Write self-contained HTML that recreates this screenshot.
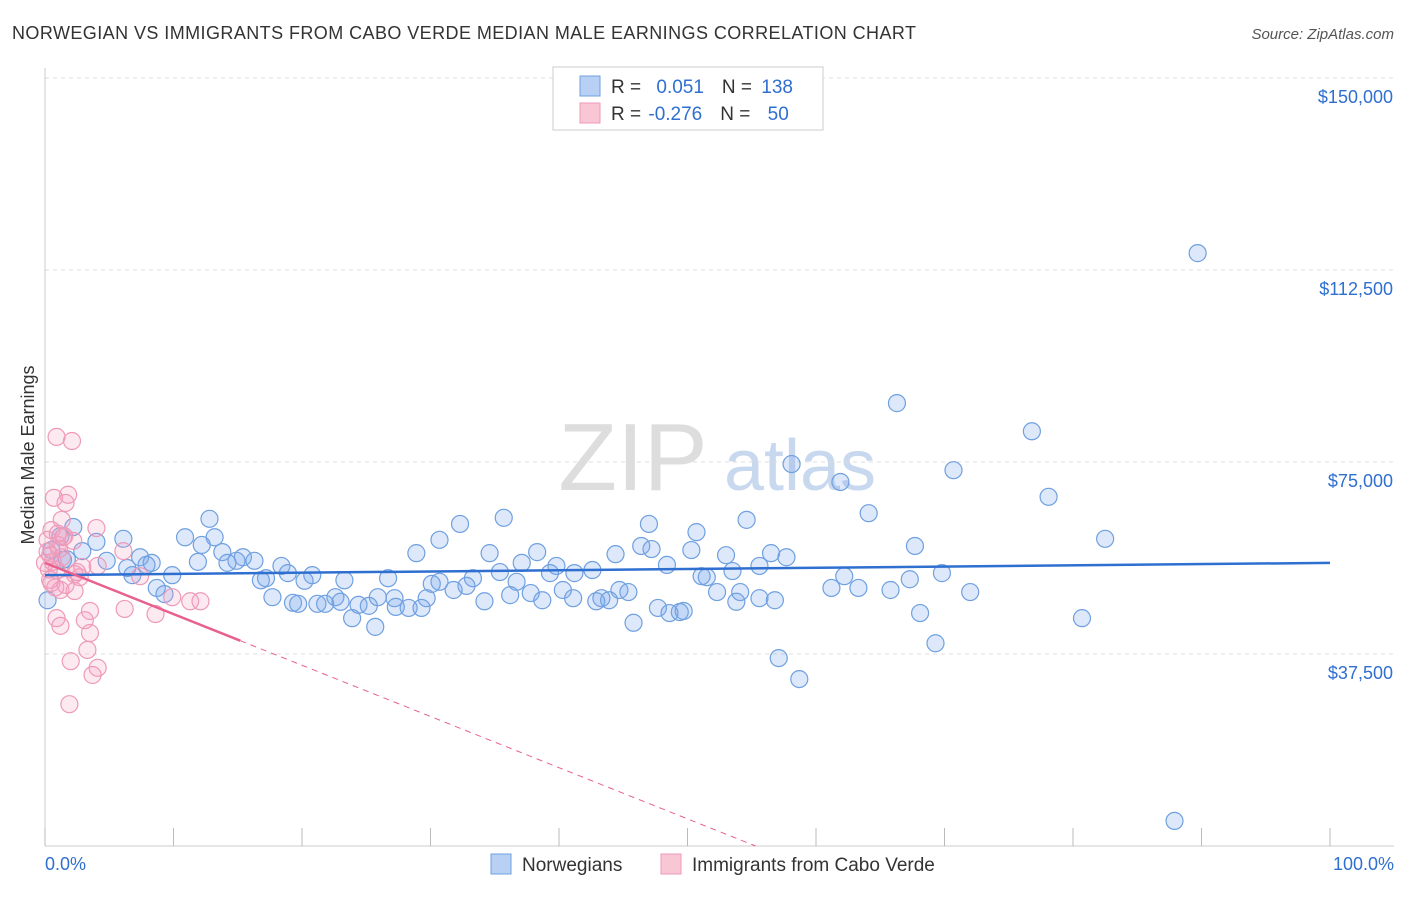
<!DOCTYPE html>
<html><head><meta charset="utf-8"><style>
body{margin:0;background:#fff;font-family:"Liberation Sans",sans-serif;}
svg text{font-family:"Liberation Sans",sans-serif;}
</style></head><body>
<svg id="chart" width="1406" height="892">
<text x="12" y="39" font-size="18" fill="#333" textLength="904" lengthAdjust="spacing">NORWEGIAN VS IMMIGRANTS FROM CABO VERDE MEDIAN MALE EARNINGS CORRELATION CHART</text>
<text x="1394" y="39" font-size="15" fill="#555" font-style="italic" text-anchor="end">Source: ZipAtlas.com</text>
<text x="0" y="0" transform="translate(34,455) rotate(-90)" font-size="18" fill="#333" text-anchor="middle">Median Male Earnings</text>
<g><text x="633" y="490" font-size="96" fill="#ddd" font-family="Liberation Serif" text-anchor="middle">ZIP</text><text x="800" y="490" font-size="72" fill="#c8d8ee" text-anchor="middle">atlas</text></g>
<g id="grid"></g><g id="axes"></g><g id="marks"></g>
<g>
<rect x="553" y="67" width="270" height="63" fill="#fff" stroke="#ccc"/>
<rect x="580" y="76" width="20" height="20" fill="#b7d0f3" stroke="#6fa0e0"/>
<rect x="580" y="103" width="20" height="20" fill="#f9c6d6" stroke="#ee9ab8"/>
<text x="611" y="93" font-size="19" fill="#333">R = <tspan fill="#2f6fd0" dx="10">0.051</tspan><tspan dx="18" fill="#333">N = </tspan><tspan fill="#2f6fd0" dx="4">138</tspan></text>
<text x="611" y="120" font-size="19" fill="#333">R = <tspan fill="#2f6fd0" dx="2">-0.276</tspan><tspan dx="18" fill="#333">N = </tspan><tspan fill="#2f6fd0" dx="12">50</tspan></text>
</g>
<g>
<rect x="491" y="854" width="20" height="20" fill="#b7d0f3" stroke="#6fa0e0"/>
<text x="522" y="871" font-size="19" fill="#333">Norwegians</text>
<rect x="661" y="854" width="20" height="20" fill="#f9c6d6" stroke="#ee9ab8"/>
<text x="692" y="871" font-size="19" fill="#333">Immigrants from Cabo Verde</text>
</g>
<text x="45" y="870" font-size="18" fill="#2f6fd0">0.0%</text>
<text x="1394" y="870" font-size="18" fill="#2f6fd0" text-anchor="end">100.0%</text>
</svg>
<script>
const yTicks=[37500,75000,112500,150000];
const yTickLabels=["$37,500","$75,000","$112,500","$150,000"];
const blueX=[89.7,66.3,76.8,58.1,70.7,61.9,78.1,64.1,35.7,12.8,54.6,32.3,47.0,2.2,50.7,82.5,13.2,10.9,6.1,30.7,4.0,12.2,46.4,67.7,47.2,2.9,13.8,50.3,34.6,38.3,28.9,44.4,53.0,56.5,7.4,15.4,57.7,4.8,16.3,14.9,11.9,8.3,7.9,14.2,37.1,39.8,48.4,55.6,18.4,6.4,6.8,9.9,35.4,39.3,42.6,41.2,18.9,20.8,53.5,69.8,62.2,67.3,16.8,17.2,20.2,23.3,26.7,33.3,30.7,51.1,51.5,36.7,32.8,8.7,30.1,31.8,40.3,44.7,45.4,61.2,63.3,65.8,72.0,52.3,54.1,9.3,36.2,37.8,22.6,25.9,17.7,27.2,29.7,41.1,38.7,43.3,43.9,55.6,56.8,53.8,34.2,42.9,19.3,19.7,21.2,21.8,23.0,24.4,25.2,27.3,28.3,29.3,47.7,49.7,49.4,48.6,68.1,23.9,80.7,25.7,45.8,69.3,57.1,58.7,87.9,1.4,0.2,0.5,1.2,1.7];
const blueY=[115.8,86.5,81.0,74.6,73.4,71.1,68.2,65.0,64.1,63.9,63.7,62.9,62.9,62.3,61.3,60.0,60.3,60.3,60.0,59.8,59.4,58.8,58.6,58.6,58.0,57.6,57.4,57.8,57.2,57.4,57.2,57.0,56.8,57.2,56.4,56.4,56.4,55.7,55.7,55.7,55.5,55.3,54.9,55.3,55.3,54.7,54.9,54.7,54.7,54.3,52.9,52.9,53.5,53.3,53.9,53.3,53.3,52.9,53.7,53.3,52.7,52.1,51.9,52.3,51.8,51.9,52.3,52.3,51.6,52.7,52.5,51.6,50.8,50.4,51.2,50.0,50.0,50.0,49.6,50.4,50.4,50.0,49.6,49.6,49.6,49.2,49.0,49.4,48.6,48.6,48.6,48.4,48.4,48.4,48.0,48.4,48.0,48.4,48.0,47.7,47.8,47.8,47.5,47.3,47.3,47.3,47.7,47.1,46.9,46.7,46.5,46.5,46.5,45.9,45.7,45.5,45.5,44.5,44.5,42.8,43.6,39.6,36.7,32.6,4.9,55.9,48.0,57.8,60.5,56.0];
const pinkX=[0.9,2.1,1.8,0.7,1.6,1.3,4.0,0.5,1.4,0.2,1.0,2.2,6.1,0.4,1.3,0,4.1,0.9,2.3,2.7,7.4,0.5,1.6,1.2,2.3,9.9,11.3,12.1,6.2,3.5,8.6,0.9,3.1,1.2,3.5,3.3,2.0,4.1,3.7,1.9,0.3,0.6,1.1,2.5,0.8,1.5,0.2,2.9,1.0,0.4];
const pinkY=[79.9,79.1,68.6,68.0,67.0,63.7,62.1,61.7,60.3,59.8,58.8,59.6,57.6,56.8,56.4,55.3,54.7,53.9,53.1,52.5,52.7,51.4,51.0,50.0,49.8,48.6,47.8,47.8,46.3,45.9,45.3,44.5,44.1,43.0,41.6,38.3,36.1,34.8,33.4,27.7,54.0,55.5,58.0,53.5,50.5,60.5,57.5,54.5,61.0,52.0];
const blueTrend=[52.9,55.3];
const pinkTrend=[55.3,-1.0];
const NS="http://www.w3.org/2000/svg";
const X=p=>45+p*12.85, Y=v=>846-v/37500*192;
function mk(t,a,p){const e=document.createElementNS(NS,t);for(const k in a)e.setAttribute(k,a[k]);p.appendChild(e);return e;}
const grid=document.getElementById('grid'),axes=document.getElementById('axes'),marks=document.getElementById('marks');
yTicks.forEach((v,i)=>{
 const l=mk('line',{x1:45,x2:1394,y1:Y(v),y2:Y(v),stroke:'#ddd','stroke-dasharray':'4,4'},grid);
 
 
 const t=mk('text',{x:1393,y:Y(v)+25,'font-size':18,fill:'#2f6fd0','text-anchor':'end'},axes);t.textContent=yTickLabels[i];
 
 
});
mk('line',{x1:45,x2:1394,y1:846,y2:846,stroke:'#ccc'},axes);
mk('line',{x1:45,x2:45,y1:68,y2:846,stroke:'#ccc'},axes);
for(let i=0;i<=10;i++){const t=mk('line',{x1:X(i*10),x2:X(i*10),y1:828,y2:846,stroke:'#bbb'},axes);
 
 }
blueX.forEach((x,i)=>{const c=mk('circle',{cx:X(x),cy:Y(blueY[i]*1000),r:8.5,fill:'rgba(120,165,235,0.25)',stroke:'#6fa0e0','stroke-width':1.2},marks);
 
 });
pinkX.forEach((x,i)=>{const c=mk('circle',{cx:X(x),cy:Y(pinkY[i]*1000),r:8.5,fill:'rgba(245,160,190,0.22)',stroke:'#ee9ab8','stroke-width':1.2},marks);
 
 });
const bl=mk('line',{x1:X(0),y1:Y(blueTrend[0]*1000),x2:X(100),y2:Y(blueTrend[1]*1000),stroke:'#2f6fd0','stroke-width':2.5},marks);


const pEnd=-pinkTrend[0]/pinkTrend[1];
const pl=mk('line',{x1:X(0),y1:Y(pinkTrend[0]*1000),x2:X(15.2),y2:Y((pinkTrend[0]+pinkTrend[1]*15.2)*1000),stroke:'#e8608e','stroke-width':2.5},marks);


const pd=mk('line',{x1:X(15.2),y1:Y((pinkTrend[0]+pinkTrend[1]*15.2)*1000),x2:X(pEnd),y2:Y(0),stroke:'#e8608e','stroke-width':1,'stroke-dasharray':'6,5'},marks);


</script>
</body></html>
